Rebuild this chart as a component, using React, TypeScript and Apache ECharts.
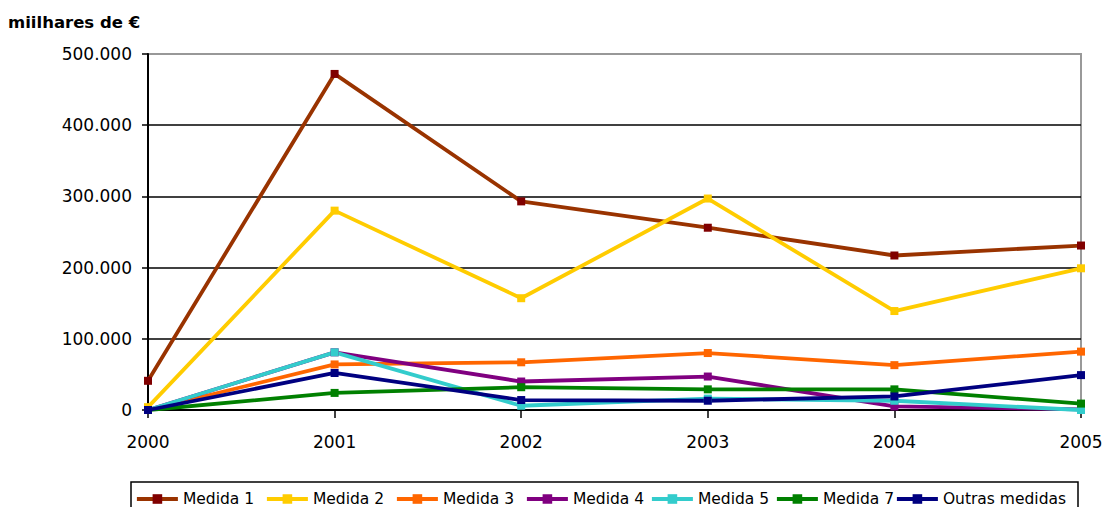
import React, { useEffect, useRef } from "react";
import * as echarts from "echarts";

// Years on the category axis
const years = ["2000", "2001", "2002", "2003", "2004", "2005"];

// Values in thousands of euros, one list per measure
const medida1 = [41000, 472000, 293000, 256000, 217000, 231000];
const medida2 = [4000, 280000, 157000, 297000, 139000, 199000];
const medida3 = [0, 64000, 67000, 80000, 63000, 82000];
const medida4 = [0, 81000, 40000, 47000, 5000, 1000];
const medida5 = [0, 81000, 6000, 16000, 13000, 0];
const medida7 = [0, 24000, 32000, 29000, 29000, 9000];
const outrasMedidas = [0, 52000, 14000, 13000, 19000, 49000];

const seriesNames = [
  "Medida 1",
  "Medida 2",
  "Medida 3",
  "Medida 4",
  "Medida 5",
  "Medida 7",
  "Outras medidas",
];
const seriesValues = [medida1, medida2, medida3, medida4, medida5, medida7, outrasMedidas];
const lineColors = ["#993300", "#FFCC00", "#FF6600", "#800080", "#33CCCC", "#008000", "#000080"];
const markerColors = ["#800000", "#FFCC00", "#FF6600", "#800080", "#33CCCC", "#008000", "#000080"];

// Left edge of each legend entry
const legendLefts = [135, 265, 395, 525, 650, 775, 895];

const FONT = "DejaVu Sans";
const LINE_WIDTH = 3.8;

const formatThousands = (v: number) =>
  String(v).replace(/\B(?=(\d{3})+(?!\d))/g, ".");

export default function App() {
  const ref = useRef<HTMLDivElement>(null);

  useEffect(() => {
    document.body.style.margin = "0";
    if (!ref.current) return;
    const chart = echarts.init(ref.current, undefined, { renderer: "svg" });

    const series = seriesNames.map((name, i) => ({
      name,
      type: "line" as const,
      data: seriesValues[i],
      symbol: "rect",
      symbolSize: 8,
      showSymbol: true,
      color: markerColors[i],
      lineStyle: { color: lineColors[i], width: LINE_WIDTH },
      itemStyle: { color: markerColors[i] },
      emphasis: { disabled: true },
    }));

    const legends = seriesNames.map((name, i) => ({
      data: [name],
      left: legendLefts[i],
      top: 491,
      padding: 0,
      itemWidth: 41,
      itemHeight: 12,
      selectedMode: false,
      lineStyle: { width: LINE_WIDTH },
      textStyle: { fontFamily: FONT, fontSize: 15.5, color: "#000" },
    }));

    chart.setOption({
      animation: false,
      textStyle: { fontFamily: FONT },
      title: {
        text: "miilhares de €",
        left: 8,
        top: 14,
        padding: 0,
        textStyle: { fontFamily: FONT, fontSize: 16.5, fontWeight: "bold", color: "#000" },
      },
      grid: {
        left: 148,
        right: 26,
        top: 54,
        bottom: 97,
        show: true,
        borderColor: "#999999",
        borderWidth: 2,
        backgroundColor: "transparent",
      },
      legend: legends,
      graphic: [
        {
          type: "rect",
          shape: { x: 131, y: 482, width: 947, height: 40 },
          style: { fill: "none", stroke: "#000", lineWidth: 1.5 },
          silent: true,
        },
      ],
      xAxis: {
        type: "category",
        data: years,
        boundaryGap: false,
        axisLine: { lineStyle: { color: "#000", width: 2 } },
        axisTick: { show: true, length: 8, alignWithLabel: true, lineStyle: { color: "#000", width: 1.5 } },
        axisLabel: { fontFamily: FONT, fontSize: 17, color: "#000", margin: 23 },
        splitLine: { show: false },
      },
      yAxis: {
        type: "value",
        min: 0,
        max: 500000,
        interval: 100000,
        axisLine: { show: true, lineStyle: { color: "#000", width: 2 } },
        axisTick: { show: true, length: 6, lineStyle: { color: "#000", width: 1.5 } },
        axisLabel: {
          fontFamily: FONT,
          fontSize: 17,
          color: "#000",
          margin: 16,
          formatter: (v: number) => formatThousands(v),
        },
        splitLine: {
          show: true,
          lineStyle: {
            color: ["#000", "#000", "#000", "#000", "#000", "#999999"],
            width: 1.5,
          },
        },
      },
      series,
    });

    return () => chart.dispose();
  }, []);

  return <div ref={ref} style={{ width: 1107, height: 507 }} />;
}
